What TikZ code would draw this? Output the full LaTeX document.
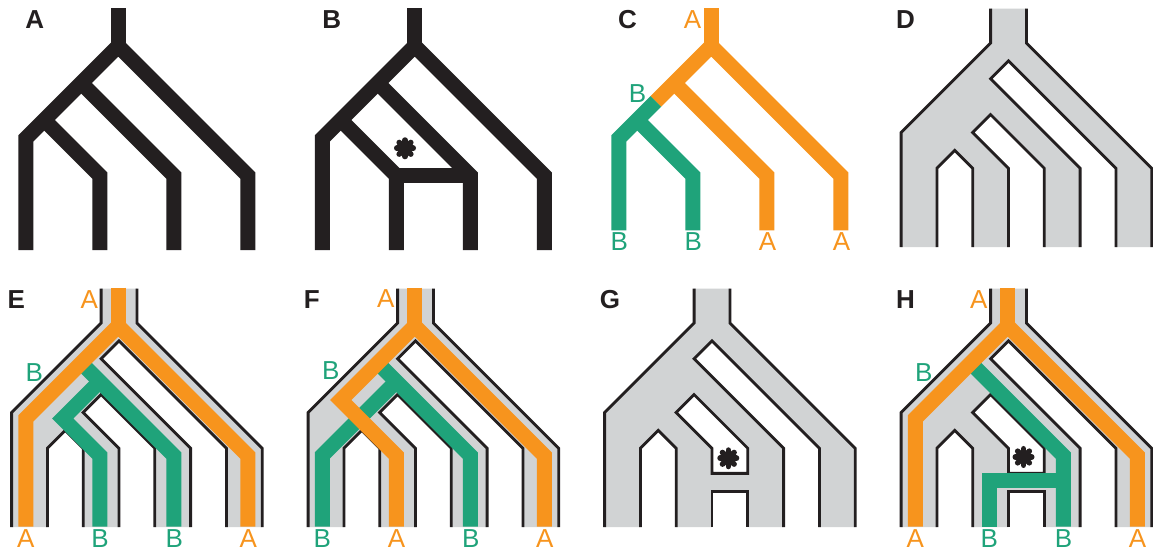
\documentclass[tikz,border=0pt]{standalone}
\usepackage{fontspec}
\setmainfont{Liberation Sans}
\definecolor{inkblack}{HTML}{231F20}
\definecolor{geneorange}{HTML}{F7941D}
\definecolor{genegreen}{HTML}{1FA37A}
\definecolor{tubegray}{HTML}{D1D3D4}

% tube (species tree) extents, in tube units
\def\tubetop{-0.48}
\def\tubebot{2.85}

% grey outline of the species tree; #1 = 0 plain, 1 with the linking bar
\newcommand\speciestube[1]{%
  \ifnum#1=0
    \fill[tubegray] (1,\tubetop) -- (1,0) -- (-0.25,1.25) -- (-0.25,\tubebot)
      -- (0.25,\tubebot) -- (0.25,1.75) -- (0.5,1.5) -- (0.75,1.75) -- (0.75,\tubebot)
      -- (1.25,\tubebot) -- (1.25,1.75) -- (0.75,1.25) -- (1,1) -- (1.75,1.75) -- (1.75,\tubebot)
      -- (2.25,\tubebot) -- (2.25,1.75) -- (1,0.5) -- (1.25,0.25) -- (2.75,1.75) -- (2.75,\tubebot)
      -- (3.25,\tubebot) -- (3.25,1.75) -- (1.5,0) -- (1.5,\tubetop) -- cycle;
    \draw[tubeline] (1.25,\tubebot) -- (1.25,1.75) -- (0.75,1.25) -- (1,1) -- (1.75,1.75) -- (1.75,\tubebot);
  \else
    \fill[tubegray,even odd rule] (1,\tubetop) -- (1,0) -- (-0.25,1.25) -- (-0.25,\tubebot)
      -- (0.25,\tubebot) -- (0.25,1.75) -- (0.5,1.5) -- (0.75,1.75) -- (0.75,\tubebot)
      -- (1.25,\tubebot) -- (1.25,2.35) -- (1.75,2.35) -- (1.75,\tubebot)
      -- (2.25,\tubebot) -- (2.25,1.75) -- (1,0.5) -- (1.25,0.25) -- (2.75,1.75) -- (2.75,\tubebot)
      -- (3.25,\tubebot) -- (3.25,1.75) -- (1.5,0) -- (1.5,\tubetop) -- cycle
      (1.25,1.75) -- (0.75,1.25) -- (1,1) -- (1.75,1.75) -- (1.75,2.1) -- (1.25,2.1) -- cycle;
    \draw[tubeline] (1.25,1.75) -- (0.75,1.25) -- (1,1) -- (1.75,1.75) -- (1.75,2.1) -- (1.25,2.1) -- cycle;
    \draw[tubeline] (1.25,\tubebot) -- (1.25,2.35) -- (1.75,2.35) -- (1.75,\tubebot);
  \fi
  \draw[tubeline] (1,\tubetop) -- (1,0) -- (-0.25,1.25) -- (-0.25,\tubebot);
  \draw[tubeline] (1.5,\tubetop) -- (1.5,0) -- (3.25,1.75) -- (3.25,\tubebot);
  \draw[tubeline] (0.25,\tubebot) -- (0.25,1.75) -- (0.5,1.5) -- (0.75,1.75) -- (0.75,\tubebot);
  \draw[tubeline] (2.25,\tubebot) -- (2.25,1.75) -- (1,0.5) -- (1.25,0.25) -- (2.75,1.75) -- (2.75,\tubebot);
}

% heavy asterisk marking the linked lineages
\newcommand\linkmark[1]{%
  \begin{scope}[shift={#1}]
    \foreach \a in {0,45,90,135}
      \draw[starspoke] (\a:8.2) -- (\a+180:8.2);
  \end{scope}
}

\begin{document}
\begin{tikzpicture}[x=0.5pt,y=-0.5pt,
  gene/.style={line width=7.5pt, line join=miter, line cap=butt, miter limit=10},
  tubeline/.style={draw=inkblack, line width=1.4pt, line join=miter, line cap=butt},
  starspoke/.style={draw=inkblack, line width=2.8pt, line cap=round},
  panel/.style={font=\fontsize{13}{15}\selectfont\bfseries, text=inkblack, inner sep=0pt},
  lab/.style={font=\fontsize{13}{15}\selectfont, inner sep=0pt},
  laba/.style={lab, text=geneorange},
  labb/.style={lab, text=genegreen}]

\fill[white] (0,0) rectangle (1153,550);
\useasboundingbox (0,0) rectangle (1153,550);

% ---------- A: gene tree ----------
\begin{scope}[shift={(25.8,46)},scale=74]
  \draw[gene,inkblack] (1.25,-0.51) -- (1.25,0);
  \draw[gene,inkblack] (0,2.76) -- (0,1.25) -- (1.25,0) -- (3,1.75) -- (3,2.76);
  \draw[gene,inkblack] (0.75,0.5) -- (2,1.75) -- (2,2.76);
  \draw[gene,inkblack] (0.25,1) -- (1,1.75) -- (1,2.76);
\end{scope}

% ---------- B: gene tree with a linking bar ----------
\begin{scope}[shift={(322.3,46)},scale=74]
  \draw[gene,inkblack] (1.25,-0.51) -- (1.25,0);
  \draw[gene,inkblack] (0,2.76) -- (0,1.25) -- (1.25,0) -- (3,1.75) -- (3,2.76);
  \draw[gene,inkblack] (0.75,0.5) -- (2,1.75) -- (2,2.76);
  \draw[gene,inkblack] (0.25,1) -- (1,1.75) -- (1,2.76);
  \draw[gene,inkblack] (1,1.75) -- (2,1.75);
\end{scope}
\linkmark{(405,148.3)}

% ---------- C: coloured gene tree ----------
\begin{scope}[shift={(618.8,46)},scale=74]
  \draw[gene,geneorange] (1.25,-0.51) -- (1.25,0);
  \draw[gene,geneorange] (0.5,0.75) -- (1.25,0) -- (3,1.75) -- (3,2.49);
  \draw[gene,geneorange] (0.75,0.5) -- (2,1.75) -- (2,2.49);
  \draw[gene,genegreen] (0.5,0.75) -- (0,1.25) -- (0,2.49);
  \draw[gene,genegreen] (0.25,1) -- (1,1.75) -- (1,2.49);
\end{scope}

% ---------- D: species tree ----------
\begin{scope}[shift={(919,43)},scale=71.6]
  \speciestube{0}
\end{scope}

% ---------- E ----------
\begin{scope}[shift={(29.5,323)},scale=71.6]
  \speciestube{0}
\end{scope}
\begin{scope}[shift={(25.8,326)},scale=74]
  \draw[gene,genegreen] (0.75,0.5) -- (2,1.75) -- (2,2.71);
  \draw[gene,genegreen] (1,0.75) -- (0.5,1.25) -- (1,1.75) -- (1,2.71);
  \draw[gene,geneorange] (1.25,-0.52) -- (1.25,0);
  \draw[gene,geneorange] (0,2.71) -- (0,1.25) -- (1.25,0) -- (3,1.75) -- (3,2.71);
\end{scope}

% ---------- F ----------
\begin{scope}[shift={(326,323)},scale=71.6]
  \speciestube{0}
\end{scope}
\begin{scope}[shift={(322.3,326)},scale=74]
  \draw[gene,genegreen] (0.75,0.5) -- (2,1.75) -- (2,2.71);
  \draw[gene,genegreen] (1,0.75) -- (0,1.75) -- (0,2.71);
  \draw[gene,geneorange] (1.25,-0.52) -- (1.25,0);
  \draw[gene,geneorange] (1,2.71) -- (1,1.75) -- (0.25,1) -- (1.25,0) -- (3,1.75) -- (3,2.71);
\end{scope}

% ---------- G ----------
\begin{scope}[shift={(622.5,323)},scale=71.6]
  \speciestube{1}
\end{scope}
\linkmark{(728.3,458.3)}

% ---------- H ----------
\begin{scope}[shift={(919,323)},scale=71.6]
  \speciestube{1}
\end{scope}
\linkmark{(1023.5,457)}
\begin{scope}[shift={(915.3,326)},scale=74]
  \draw[gene,genegreen] (0.75,0.5) -- (2,1.75) -- (2,2.71);
  \draw[gene,genegreen] (2,2.09) -- (1,2.09) -- (1,2.71);
  \draw[gene,geneorange] (1.25,-0.52) -- (1.25,0);
  \draw[gene,geneorange] (0,2.71) -- (0,1.25) -- (1.25,0) -- (3,1.75) -- (3,2.71);
\end{scope}

% ---------- panel letters ----------
\node[panel] (pA) at (34.7,19.3) {A};
\node[panel] (pB) at (331.7,19.3) {B};
\node[panel] (pC) at (627.5,19.3) {C};
\node[panel] (pD) at (905.5,19.3) {D};
\node[panel] (pE) at (16.3,299.2) {E};
\node[panel] (pF) at (311.7,299.2) {F};
\node[panel] (pG) at (610,299.2) {G};
\node[panel] (pH) at (905.5,299.2) {H};

% ---------- lineage labels ----------
\node[laba] (cA0) at (692.5,20) {A};
\node[labb] (cB0) at (637.5,93.3) {B};
\node[labb] (cB1) at (619.3,241.7) {B};
\node[labb] (cB2) at (693.3,241.7) {B};
\node[laba] (cA3) at (767.5,241.7) {A};
\node[laba] (cA4) at (841.6,241.7) {A};

\node[laba] (eA0) at (89.2,299.2) {A};
\node[labb] (eB0) at (34.2,372.5) {B};
\node[laba] (eA1) at (25.8,538.3) {A};
\node[labb] (eB2) at (100,538.3) {B};
\node[labb] (eB3) at (174.2,538.3) {B};
\node[laba] (eA4) at (248.3,538.3) {A};

\node[laba] (fA0) at (385.8,298.3) {A};
\node[labb] (fB0) at (330.8,370.8) {B};
\node[labb] (fB1) at (322.3,538.3) {B};
\node[laba] (fA2) at (396.5,538.3) {A};
\node[labb] (fB3) at (470.7,538.3) {B};
\node[laba] (fA4) at (544.8,538.3) {A};

\node[laba] (hA0) at (978.8,299.2) {A};
\node[labb] (hB0) at (923.8,372.5) {B};
\node[laba] (hA1) at (915.3,538.3) {A};
\node[labb] (hB2) at (989.3,538.3) {B};
\node[labb] (hB3) at (1063.5,538.3) {B};
\node[laba] (hA4) at (1137.6,538.3) {A};
\end{tikzpicture}
\end{document}
